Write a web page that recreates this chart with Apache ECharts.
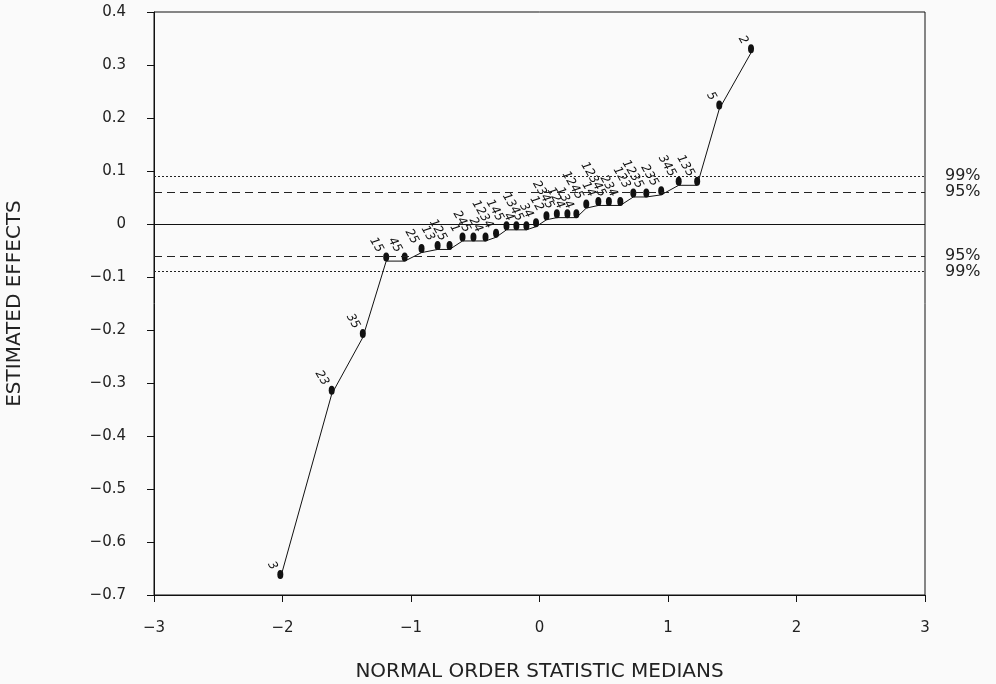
<!DOCTYPE html>
<html>
<head>
<meta charset="utf-8">
<script src="https://cdn.jsdelivr.net/npm/echarts@6/dist/echarts.min.js"></script>
<style>
  html, body { margin: 0; padding: 0; background: #fafafa; }
  #chart { width: 996px; height: 684px; }
</style>
</head>
<body>
<div id="chart"></div>
<script>
// Normal probability plot of the 31 estimated effects of a 2^5 factorial design
const xMedians = [-2.017, -1.617, -1.375, -1.193, -1.049, -0.918, -0.793, -0.700, -0.599, -0.514,
                  -0.420, -0.338, -0.257, -0.180, -0.102, -0.027, 0.054, 0.135, 0.217, 0.287,
                  0.364, 0.458, 0.540, 0.629, 0.730, 0.831, 0.947, 1.083, 1.227, 1.399, 1.646];
const effects = [-0.669, -0.321, -0.214, -0.070, -0.070, -0.054, -0.048, -0.048, -0.032, -0.032,
                 -0.032, -0.025, -0.011, -0.011, -0.011, -0.005, 0.008, 0.012, 0.012, 0.012,
                 0.030, 0.035, 0.035, 0.035, 0.051, 0.051, 0.055, 0.073, 0.073, 0.217, 0.323];
const effectNames = ['3', '23', '35', '15', '45', '25', '13', '125', '1', '245',
                     '24', '1234', '145', '4', '1345', '34', '12', '2345', '124', '134',
                     '1245', '14', '12345', '234', '123', '1235', '235', '345', '135', '5', '2'];

// significance limits for the effects
const limit95 = 0.057;
const limit99 = 0.086;

const xTicks = [-3, -2, -1, 0, 1, 2, 3];

const fmt = v => {
  const r = Math.round(v * 10) / 10;
  if (r === 0) return '0';
  const s = Math.abs(r).toString();
  return (r < 0 ? '\u2212' : '') + s;
};

const points = xMedians.map((x, i) => ({ value: [x, effects[i]], name: effectNames[i] }));

const chart = echarts.init(document.getElementById('chart'));
const axisFont = { fontFamily: 'DejaVu Sans', color: '#222' };

chart.setOption({
  backgroundColor: '#fafafa',
  animation: false,
  grid: {
    left: 154, right: 71, top: 12, bottom: 89,
    outerBoundsMode: 'none',
    show: true, borderColor: '#111', borderWidth: 1
  },
  xAxis: {
    type: 'value', min: xTicks[0], max: xTicks[xTicks.length - 1], interval: 1,
    name: 'NORMAL ORDER STATISTIC MEDIANS', nameLocation: 'middle', nameGap: 67,
    nameTextStyle: Object.assign({ fontSize: 20 }, axisFont),
    axisLine: { onZero: false, lineStyle: { color: '#111', width: 1 } },
    axisTick: { inside: false, length: 7, lineStyle: { color: '#111' } },
    axisLabel: Object.assign({ fontSize: 15, margin: 26, formatter: fmt }, axisFont),
    splitLine: { show: false }
  },
  yAxis: {
    type: 'value', min: -0.7, max: 0.4, interval: 0.1,
    name: 'ESTIMATED EFFECTS', nameLocation: 'middle', nameGap: 129,
    nameTextStyle: Object.assign({ fontSize: 20 }, axisFont),
    axisLine: { onZero: false, lineStyle: { color: '#111', width: 1 } },
    axisTick: { inside: false, length: 7, lineStyle: { color: '#111' } },
    axisLabel: Object.assign({ fontSize: 15, margin: 28, formatter: fmt }, axisFont),
    splitLine: { show: false }
  },
  series: [{
    type: 'line',
    data: points,
    lineStyle: { color: '#111', width: 1 },
    itemStyle: { color: '#111' },
    symbol: 'circle',
    symbolSize: [6, 9],
    symbolOffset: [0, -4],
    label: {
      show: true,
      formatter: p => p.name,
      position: [-3, -1],
      align: 'right',
      verticalAlign: 'middle',
      rotate: -60,
      fontFamily: 'DejaVu Sans',
      fontStyle: 'italic',
      fontSize: 12,
      color: '#111'
    },
    markLine: {
      silent: true,
      symbol: 'none',
      animation: false,
      label: {
        show: true, position: 'end', distance: 20,
        fontFamily: 'DejaVu Sans', fontSize: 16, color: '#222'
      },
      data: [
        { yAxis: 0, lineStyle: { type: 'solid', color: '#111', width: 1 }, label: { show: false } },
        { yAxis: limit99, lineStyle: { type: [2, 2], color: '#222', width: 1 }, label: { formatter: '99%' } },
        { yAxis: limit95, lineStyle: { type: [8, 5], color: '#222', width: 1 }, label: { formatter: '95%' } },
        { yAxis: -limit95, lineStyle: { type: [8, 5], color: '#222', width: 1 }, label: { formatter: '95%' } },
        { yAxis: -limit99, lineStyle: { type: [2, 2], color: '#222', width: 1 }, label: { formatter: '99%' } }
      ]
    }
  }]
});
</script>
</body>
</html>
